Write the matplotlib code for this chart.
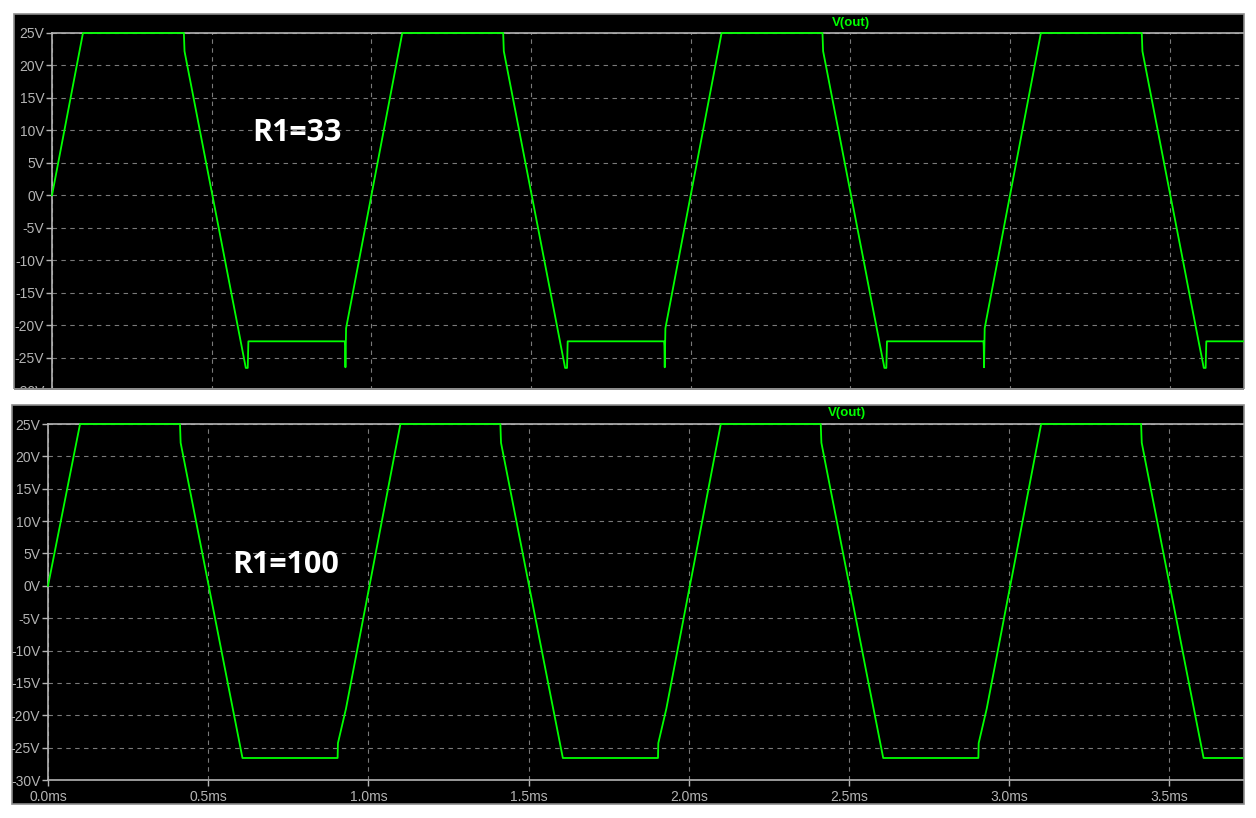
import matplotlib
matplotlib.use('Agg')
import matplotlib.pyplot as plt
from matplotlib.patches import Rectangle

# --------------------- data (time in ms, voltage in V)
t_r33 = [0.000, 0.097, 0.413, 0.415, 0.607, 0.613, 0.615, 0.917, 0.918, 0.919, 0.921,
         1.097, 1.413, 1.415, 1.607, 1.613, 1.615, 1.917, 1.918, 1.919, 1.921,
         2.097, 2.413, 2.415, 2.607, 2.613, 2.615, 2.917, 2.918, 2.919, 2.921,
         3.097, 3.413, 3.415, 3.607, 3.613, 3.615, 3.730]
v_r33 = [0.0, 25.0, 25.0, 22.2, -26.6, -26.6, -22.5, -22.5, -23.2, -26.5, -20.5,
         25.0, 25.0, 22.2, -26.6, -26.6, -22.5, -22.5, -23.2, -26.5, -20.5,
         25.0, 25.0, 22.2, -26.6, -26.6, -22.5, -22.5, -23.2, -26.5, -20.5,
         25.0, 25.0, 22.2, -26.6, -26.6, -22.5, -22.5]

t_r100 = [0.000, 0.100, 0.412, 0.414, 0.607, 0.904, 0.905, 0.930,
          1.100, 1.412, 1.414, 1.607, 1.904, 1.905, 1.930,
          2.100, 2.412, 2.414, 2.607, 2.904, 2.905, 2.930,
          3.100, 3.412, 3.414, 3.607, 3.728]
v_r100 = [0.0, 25.0, 25.0, 22.1, -26.6, -26.6, -24.3, -19.0,
          25.0, 25.0, 22.1, -26.6, -26.6, -24.3, -19.0,
          25.0, 25.0, 22.1, -26.6, -26.6, -24.3, -19.0,
          25.0, 25.0, 22.1, -26.6, -26.6]

xticks = [0.0, 0.5, 1.0, 1.5, 2.0, 2.5, 3.0, 3.5]
xticklabels = ['0.0ms', '0.5ms', '1.0ms', '1.5ms', '2.0ms', '2.5ms', '3.0ms', '3.5ms']
yticks = [-30, -25, -20, -15, -10, -5, 0, 5, 10, 15, 20, 25]
yticklabels = ['%dV' % v for v in yticks]

W, H = 1256, 818
trace = '#00ff00'
axcol = '#b4b4b4'
txtcol = '#dcdcdc'
gridcol = '#7a7a7a'

fig = plt.figure(figsize=(W / 100, H / 100), dpi=100, facecolor='white')

def px_rect(x0, y0, x1, y1):
    return [x0 / W, 1 - y1 / H, (x1 - x0) / W, (y1 - y0) / H]

# black panels
for (x0, y0, x1, y1) in [(14, 14, 1244, 389), (12, 405, 1244, 804)]:
    fig.add_artist(Rectangle((x0 / W, 1 - y1 / H), (x1 - x0) / W, (y1 - y0) / H,
                             transform=fig.transFigure, facecolor='black',
                             edgecolor='#8c8c8c', linewidth=1.2, zorder=-5))

def setup(ax, showx):
    ax.set_facecolor('black')
    ax.set_xlim(0, 3.73)
    ax.set_ylim(-30, 25)
    ax.set_xticks(xticks)
    ax.set_yticks(yticks)
    ax.set_yticklabels(yticklabels, fontsize=10, color=txtcol, family='Liberation Sans')
    if showx:
        ax.set_xticklabels(xticklabels, fontsize=10, color=txtcol, family='Liberation Sans')
    else:
        ax.set_xticklabels([])
    ax.tick_params(colors=axcol, length=4, width=1, pad=1.5)
    ax.tick_params(axis='x', pad=3)
    for s in ['left', 'top', 'bottom']:
        ax.spines[s].set_color(axcol)
        ax.spines[s].set_linewidth(1.2)
    ax.spines['right'].set_visible(False)
    ax.grid(True, color=gridcol, linestyle=(0, (4, 4)), linewidth=0.8)
    ax.set_axisbelow(True)

# --------------------- top panel (R1=33)
ax1 = fig.add_axes(px_rect(52, 33, 1243, 390))
setup(ax1, False)
ax1.plot(t_r33, v_r33, color=trace, linewidth=1.3, clip_on=False, zorder=5)
ax1.text(0.626, 8.3, 'R1=33', color='white', fontsize=22, fontweight='bold',
         family='Open Sans', ha='left', va='baseline')

# --------------------- bottom panel (R1=100)
ax2 = fig.add_axes(px_rect(48, 424, 1243, 780))
setup(ax2, True)
ax2.plot(t_r100, v_r100, color=trace, linewidth=1.3, clip_on=False, zorder=5)
ax2.text(0.575, 2.0, 'R1=100', color='white', fontsize=22, fontweight='bold',
         family='Open Sans', ha='left', va='baseline')

# trace names
fig.text(851 / W, 1 - 23 / H, 'V(out)', color=trace, fontsize=9.5, fontweight='bold',
         family='Liberation Sans', ha='center', va='center')
fig.text(847 / W, 1 - 413 / H, 'V(out)', color=trace, fontsize=9.5, fontweight='bold',
         family='Liberation Sans', ha='center', va='center')

# white gap between the panels hides the cut-off bottom of the top plot
fig.add_artist(Rectangle((0, 1 - 404 / H), 1, 14.5 / H, transform=fig.transFigure,
                         facecolor='white', edgecolor='none', zorder=10))
fig.add_artist(Rectangle((14 / W, 1 - 390 / H), 1230 / W, 1.5 / H, transform=fig.transFigure,
                         facecolor='#8c8c8c', edgecolor='none', zorder=11))

plt.savefig('out.png', dpi=100, facecolor='white')
